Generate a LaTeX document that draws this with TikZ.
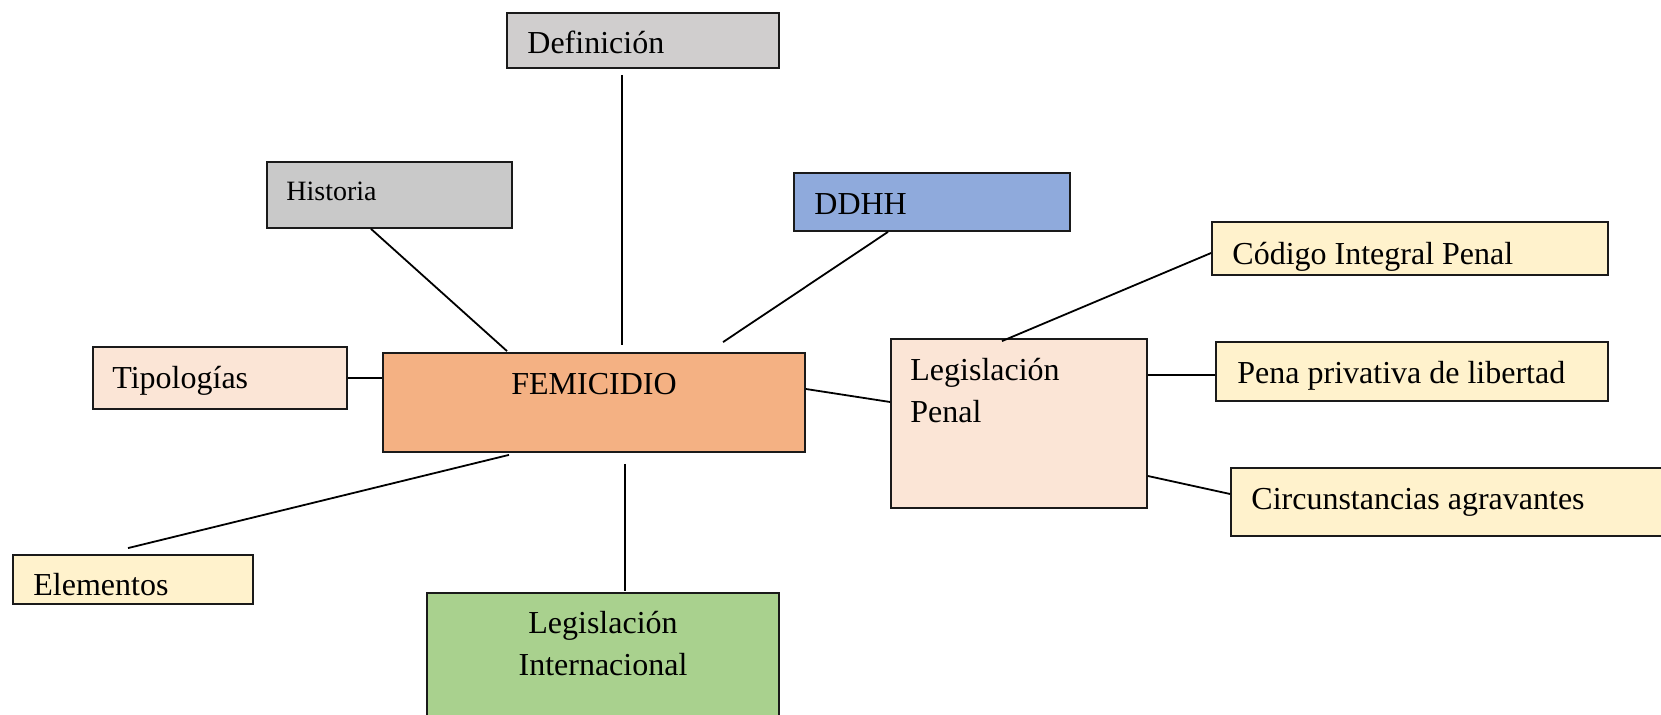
\documentclass[tikz,border=0pt]{standalone}
\usepackage{fontspec}
\setmainfont{Liberation Serif}
\usetikzlibrary{fit}
\definecolor{cdef}{HTML}{D0CECE}
\definecolor{chist}{HTML}{C9C9C9}
\definecolor{cddhh}{HTML}{8FAADC}
\definecolor{cfem}{HTML}{F4B183}
\definecolor{cpeach}{HTML}{FBE5D6}
\definecolor{cyel}{HTML}{FFF2CC}
\definecolor{cgreen}{HTML}{A9D18E}
\definecolor{cline}{HTML}{1A1A1A}
\tikzset{
  box/.style={draw=cline, line width=0.9pt, inner sep=0pt, rectangle},
  lbl/.style={inner sep=0pt, font=\fontsize{16}{19}\selectfont, anchor=base west},
  lblc/.style={inner sep=0pt, font=\fontsize{16}{19}\selectfont, anchor=base},
  conn/.style={draw=black, line width=0.9pt}
}
\begin{document}
\begin{tikzpicture}[x=0.5pt,y=-0.5pt]
\useasboundingbox (0,0) rectangle (1661,715);
% boxes
\node[box, fill=cdef,  fit={(507,13) (779,68)}] (def) {};
\node[box, fill=chist, fit={(267,162) (512,228)}] (hist) {};
\node[box, fill=cddhh, fit={(794,173) (1070,231)}] (ddhh) {};
\node[box, fill=cyel,  fit={(1212,222) (1608,275)}] (cod) {};
\node[box, fill=cpeach,fit={(891,339) (1147,508)}] (lp) {};
\node[box, fill=cyel,  fit={(1216,342) (1608,401)}] (pena) {};
\node[box, fill=cyel,  fit={(1231,468) (1680,536)}] (circ) {};
\node[box, fill=cpeach,fit={(93,347) (347,409)}] (tip) {};
\node[box, fill=cfem,  fit={(383,353) (805,452)}] (fem) {};
\node[box, fill=cyel,  fit={(13,555) (253,604)}] (elem) {};
\node[box, fill=cgreen,fit={(427,593) (779,735)}] (li) {};
% texts
\node[lbl] (tdef) at (527,54) {Definición};
\node[lbl, font=\fontsize{14}{17}\selectfont] (thist) at (286,201) {Historia};
\node[lbl] (tddhh) at (814,215) {DDHH};
\node[lbl] (tcod) at (1232,265) {Código Integral Penal};
\node[lbl] (tlp1) at (910,381) {Legislación};
\node[lbl] (tlp2) at (910,423) {Penal};
\node[lbl] (tpena) at (1237,384) {Pena privativa de libertad};
\node[lbl] (tcirc) at (1251,510) {Circunstancias agravantes};
\node[lbl] (ttip) at (112,389) {Tipologías};
\node[lblc] (tfem) at (594,395) {FEMICIDIO};
\node[lbl] (telem) at (33,596) {Elementos};
\node[lblc] (tli1) at (603,634) {Legislación};
\node[lblc] (tli2) at (603,676) {Internacional};
% connectors
\draw[conn] ([shift={(-21,6)}]def.south) -- ([shift={(28,-7)}]fem.north);
\draw[conn] ([shift={(-18.5,0)}]hist.south) -- ([shift={(-87,-1)}]fem.north);
\draw[conn] ([shift={(-44,0)}]ddhh.south) -- ([shift={(129,-10)}]fem.north);
\draw[conn] ([shift={(0,4.5)}]cod.west) -- ([shift={(-17,3)}]lp.north);
\draw[conn] (tip.east) -- (tip.east -| fem.west);
\draw[conn] ([shift={(0,-13.5)}]fem.east) -- ([shift={(0,-21.5)}]lp.west);
\draw[conn] ([shift={(0,3.5)}]pena.west) -- ([shift={(0,3.5)}]pena.west -| lp.east);
\draw[conn] ([shift={(0,52.5)}]lp.east) -- ([shift={(0,-8)}]circ.west);
\draw[conn] ([shift={(-85,2)}]fem.south) -- ([shift={(-5,-6)}]elem.north);
\draw[conn] ([shift={(31,11)}]fem.south) -- ([shift={(22,-1)}]li.north);
\end{tikzpicture}
\end{document}
